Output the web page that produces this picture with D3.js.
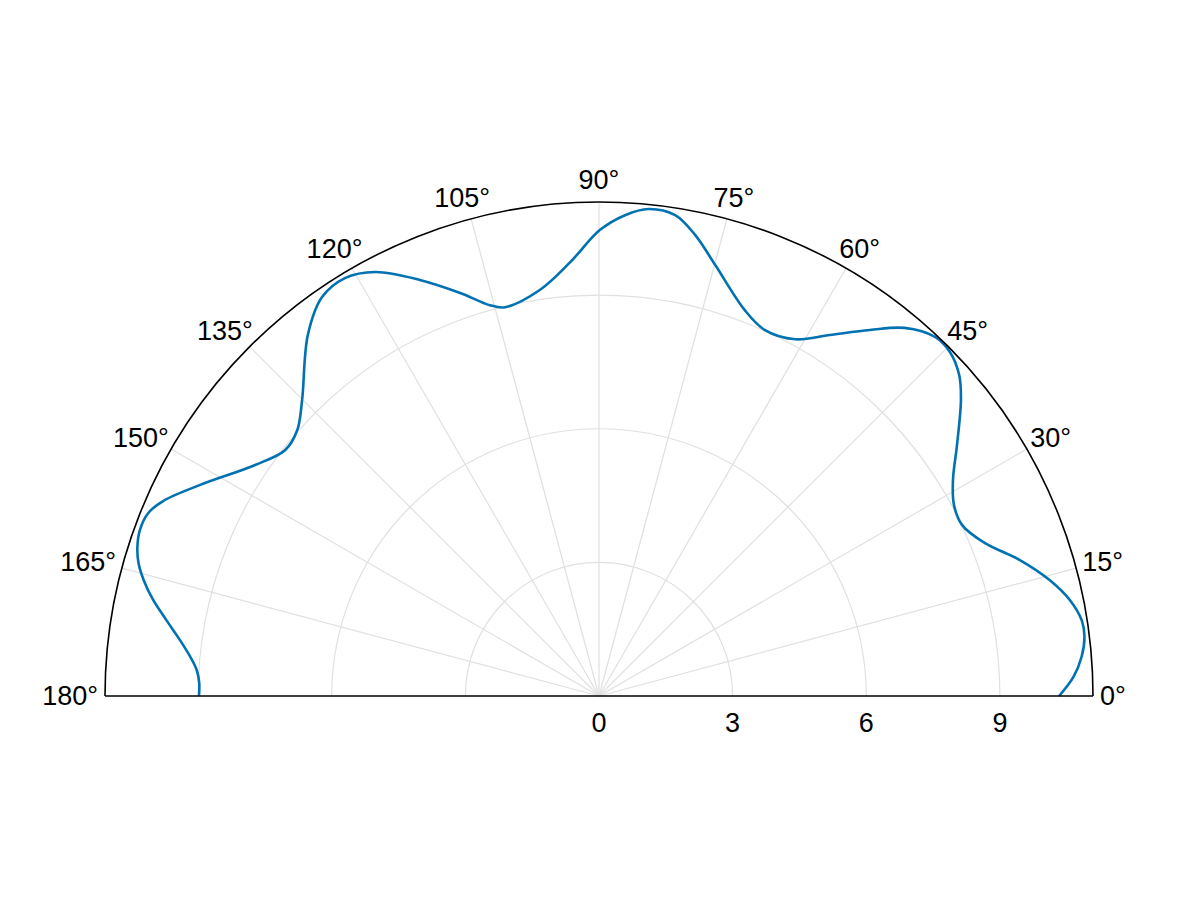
<!DOCTYPE html>
<html><head><meta charset="utf-8">
<script src="https://cdn.jsdelivr.net/npm/d3@7"></script>
<style>body{margin:0;background:#fff}</style></head>
<body><svg id="c" width="1200" height="900" style="display:block"></svg>
<script>
// data (angle in degrees, radius in data units)
const angleDeg = [0, 2.3, 4.65, 7, 8.9, 11.5, 14.4, 17.9, 21.6, 25.2, 28.3, 31.4, 35, 39.3, 41.7, 44.4, 46.9, 50.3, 53.5, 57.4, 61.2, 65.6, 69.3, 74.9, 78.2, 81, 84.2, 86.9, 89.9, 93.8, 98.3, 103.6, 105.6, 109, 113.3, 117.8, 121.3, 124.8, 128.9, 135.1, 138.6, 141.9, 146.1, 152.1, 155.9, 157.9, 160.1, 162.1, 163.9, 165.7, 167.7, 170, 172.4, 174.5, 176.3, 178.1, 180];
const radius   = [10.33, 10.66, 10.87, 10.98, 10.97, 10.79, 10.45, 9.93, 9.32, 9.01, 9.05, 9.31, 9.81, 10.50, 10.83, 11.03, 11.04, 10.74, 10.22, 9.62, 9.14, 9.02, 9.26, 10.02, 10.57, 10.93, 10.99, 10.81, 10.46, 9.76, 9.21, 8.98, 9.11, 9.57, 10.17, 10.76, 10.98, 10.90, 10.41, 9.41, 9.03, 8.95, 9.30, 10.13, 10.72, 10.92, 10.96, 10.89, 10.76, 10.55, 10.26, 9.87, 9.49, 9.22, 9.05, 8.98, 8.98];
const radialTicks = [0, 3, 6, 9];
const angleTicks = [0, 15, 30, 45, 60, 75, 90, 105, 120, 135, 150, 165, 180];
const rMax = 11.09;

const cx = 599, cy = 696, R = 494;
const fontSize = 27;
const svg = d3.select('#c');
const g = svg.append('g').attr('transform', `translate(${cx},${cy})`);
const r = d3.scaleLinear().domain([0, rMax]).range([0, R]);
const rad = d => d * Math.PI / 180;

// radial gridline circles
const arcGen = d3.arc();
g.append('g').selectAll('path').data(radialTicks.filter(t => t > 0)).join('path')
  .attr('d', t => arcGen({innerRadius: r(t), outerRadius: r(t), startAngle: -Math.PI/2, endAngle: Math.PI/2}))
  .attr('fill', 'none').attr('stroke', '#e0e0e0').attr('stroke-width', 1.2);

// angular gridlines
g.append('g').selectAll('line').data(angleTicks.filter(a => a > 0 && a < 180)).join('line')
  .attr('x1', 0).attr('y1', 0)
  .attr('x2', a => R * Math.cos(rad(a))).attr('y2', a => -R * Math.sin(rad(a)))
  .attr('stroke', '#e0e0e0').attr('stroke-width', 1.2);

// data curve
const line = d3.lineRadial()
  .angle((d, i) => Math.PI/2 - rad(angleDeg[i]))
  .radius((d, i) => r(radius[i]))
  .curve(d3.curveCatmullRom.alpha(0.5));
g.append('path').attr('d', line(angleDeg))
  .attr('fill', 'none').attr('stroke', '#0072B2').attr('stroke-width', 2.6)
  .attr('stroke-linejoin', 'round');

// frame: outer arc + baseline
g.append('path')
  .attr('d', arcGen({innerRadius: R, outerRadius: R, startAngle: -Math.PI/2, endAngle: Math.PI/2}))
  .attr('fill', 'none').attr('stroke', '#000').attr('stroke-width', 1.6);
g.append('line').attr('x1', -R).attr('x2', R).attr('y1', 0).attr('y2', 0)
  .attr('stroke', '#000').attr('stroke-width', 1.6);

// angle tick labels
const gap = 7;
const lab = g.append('g').attr('font-family', 'Liberation Sans, Arial, sans-serif').attr('font-size', fontSize).attr('fill', '#000');
angleTicks.forEach(a => {
  const t = lab.append('text').text(a + '°');
  const bb = t.node().getBBox();
  const px = (R + gap) * Math.cos(rad(a)), py = -(R + gap) * Math.sin(rad(a));
  const left = px - bb.width * (0.5 - 0.5 * Math.cos(rad(a)));
  const top = py - bb.height * (0.5 + 0.5 * Math.sin(rad(a)));
  t.attr('x', left - bb.x).attr('y', top - bb.y);
});

// radial tick labels
lab.append('g').selectAll('text').data(radialTicks).join('text')
  .attr('x', t => r(t)).attr('y', 36).attr('text-anchor', 'middle').text(t => t);
</script></body></html>
